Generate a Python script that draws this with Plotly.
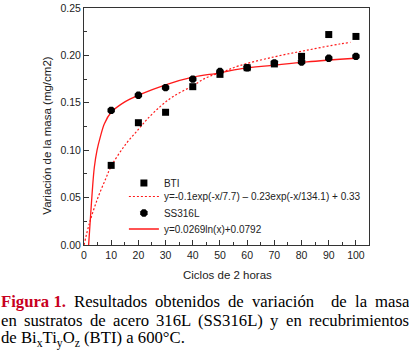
import plotly.graph_objects as go

# ---- data ----
cycles = [10, 20, 30, 40, 50, 60, 70, 80, 90, 100]
bti = [0.084, 0.129, 0.140, 0.167, 0.180, 0.187, 0.191, 0.199, 0.222, 0.220]
ss316l = [0.142, 0.158, 0.166, 0.175, 0.183, 0.187, 0.192, 0.193, 0.197, 0.199]

# fitted curves
bti_fit_x = [0, 2, 5, 8, 10, 15, 20, 23, 28, 33, 40, 45, 51, 57, 70, 82, 94, 98]
bti_fit_y = [0.0, 0.023, 0.049, 0.070, 0.083, 0.105, 0.122, 0.132, 0.146, 0.157,
             0.168, 0.1765, 0.1825, 0.189, 0.1985, 0.2055, 0.212, 0.2137]
ss_fit_x = [1.7, 2.4, 3.0, 3.8, 4.8, 6.0, 7.5, 10, 15, 20, 30, 40, 50, 57, 70, 82, 100]
ss_fit_y = [0.0, 0.030, 0.055, 0.082, 0.100, 0.114, 0.128, 0.140, 0.151, 0.158,
            0.169, 0.177, 0.1816, 0.1856, 0.1897, 0.1932, 0.197]

x_ticks = [0, 10, 20, 30, 40, 50, 60, 70, 80, 90, 100]
y_ticks = [0.00, 0.05, 0.10, 0.15, 0.20, 0.25]

lbl_bti = "BTI"
lbl_bti_fit = "y=-0.1exp(-x/7.7) \u2013 0.23exp(-x/134.1) + 0.33"
lbl_ss = "SS316L"
lbl_ss_fit = "y=0.0269ln(x)+0.0792"

# caption (justified lines split into words)
cap_line1 = ['<span style="color:#c8001e"><b>Figura 1.</b></span>', "Resultados", "obtenidos",
             "de", "variación", "de", "la", "masa"]
cap_line2 = ["en", "sustratos", "de", "acero", "316L", "(SS316L)", "y", "en", "recubrimientos"]
cap_line3 = "de Bi<sub>x</sub>Ti<sub>y</sub>O<sub>z</sub> (BTI) a 600°C."
cap_pos1 = [0, 73.0, 154.4, 227.4, 251.3, 329.6, 353.5, 373.7]
cap_pos2 = [0, 22.9, 88.6, 111.5, 154.9, 197.3, 269.4, 284.9, 307.8]

RED = "#ff1a1a"
SANS = "Liberation Sans, Arial, sans-serif"
SERIF = "Liberation Serif, Times New Roman, serif"

fig = go.Figure()
fig.add_trace(go.Scatter(x=bti_fit_x, y=bti_fit_y, mode="lines", name=lbl_bti_fit,
                         line=dict(color=RED, width=1.2, dash="2px,2px", shape="spline"),
                         legend="legend2"))
fig.add_trace(go.Scatter(x=ss_fit_x, y=ss_fit_y, mode="lines", name=lbl_ss_fit,
                         line=dict(color=RED, width=1.3, shape="spline"),
                         legend="legend4"))
fig.add_trace(go.Scatter(x=cycles, y=bti, mode="markers", name=lbl_bti,
                         marker=dict(symbol="square", size=7, color="black"),
                         legend="legend"))
fig.add_trace(go.Scatter(x=cycles, y=ss316l, mode="markers", name=lbl_ss,
                         marker=dict(symbol="octagon", size=8, color="black"),
                         legend="legend3"))

def leg(y):
    return dict(x=0.14, y=y, xanchor="left", yanchor="middle",
                bgcolor="rgba(0,0,0,0)", borderwidth=0,
                font=dict(family=SANS, size=10, color="#222"))

L, PW = 84, 285

fig.update_layout(
    width=409, height=352,
    margin=dict(l=L, r=40, t=8, b=107, autoexpand=False),
    paper_bgcolor="white", plot_bgcolor="white",
    showlegend=True,
    legend=leg(0.2616), legend2=leg(0.2046),
    legend3=leg(0.135), legend4=leg(0.0675),
    font=dict(family=SANS, size=10.5, color="#222"),
)

axis_common = dict(showgrid=False, zeroline=False, showline=True, mirror=True,
                   automargin=False,
                   linecolor="#333", linewidth=1, ticks="inside", ticklen=5,
                   tickcolor="#333", tickfont=dict(family=SANS, size=10.5, color="#222"))
fig.update_xaxes(range=[0, 104.8], tickvals=x_ticks, ticktext=[str(v) for v in x_ticks],
                 minor=dict(ticks="inside", ticklen=3, dtick=5, tick0=5, tickcolor="#333"),
                 **axis_common)
fig.update_yaxes(range=[0, 0.25], tickvals=y_ticks, ticktext=["%.2f" % v for v in y_ticks],
                 minor=dict(ticks="inside", ticklen=3, dtick=0.025, tick0=0.025, tickcolor="#333"),
                 **axis_common)

CAP = 16.7
ann = [
    dict(text="Ciclos de 2 horas", x=0.5018, y=-0.1266, xref="paper", yref="paper",
         showarrow=False, font=dict(family=SANS, size=11.5, color="#222"),
         xanchor="center", yanchor="middle"),
    dict(text="Variación de la masa (mg/cm2)", x=-0.1309, y=0.46, xref="paper", yref="paper",
         showarrow=False, textangle=-90, font=dict(family=SANS, size=11.5, color="#222"),
         xanchor="center", yanchor="middle"),
]
for words, pos, yy in ((cap_line1, cap_pos1, -0.2384), (cap_line2, cap_pos2, -0.3165)):
    for w, px in zip(words, pos):
        ann.append(dict(text=w, x=(px - L) / PW, y=yy, xref="paper", yref="paper",
                        showarrow=False, font=dict(family=SERIF, size=CAP, color="black"),
                        xanchor="left", yanchor="middle", borderpad=0))
ann.append(dict(text=cap_line3, x=(0 - L) / PW, y=-0.3965, xref="paper", yref="paper",
                showarrow=False, font=dict(family=SERIF, size=CAP, color="black"),
                xanchor="left", yanchor="middle", borderpad=0))
fig.update_layout(annotations=ann)

fig.write_html("out.html", config={"displayModeBar": False},
               post_script="document.body.style.margin='0px';")
